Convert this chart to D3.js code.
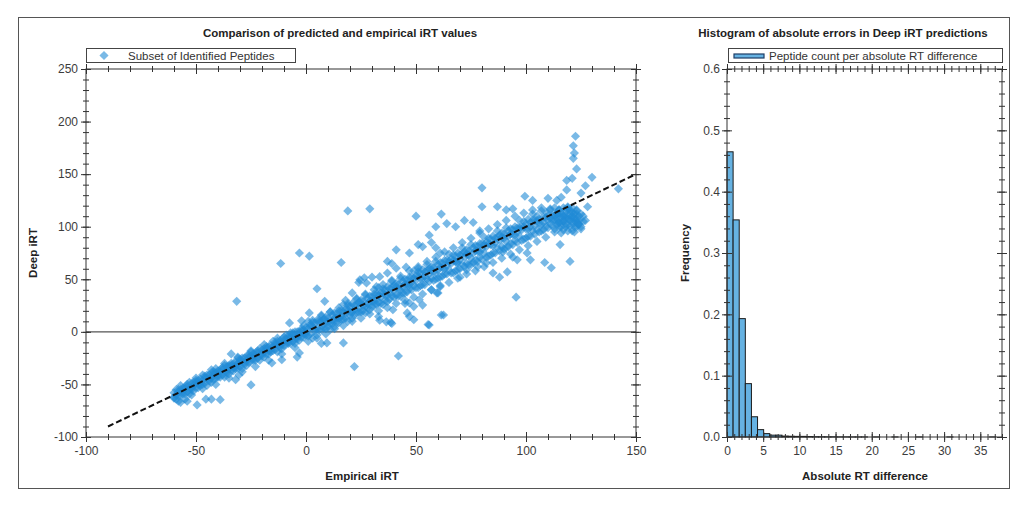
<!DOCTYPE html>
<html>
<head>
<meta charset="utf-8">
<script src="https://cdn.jsdelivr.net/npm/d3@7"></script>
<style>
	body { margin:0; background:#fff; }
	text { font-family:"Liberation Sans", Arial, sans-serif; }
</style>
</head>
<body>
<svg id="chart" width="1029" height="508"></svg>
<script>
// ---------- DATA ----------
// Dense band of peptides close to the diagonal: [empirical iRT, deep iRT]
const bandPoints = [
	[-60,-62],[-60,-58],[-60,-63],[-58,-57],[-58,-61],[-58,-55],[-56,-59],[-56,-54],[-56,-57],
	[-54,-52],[-54,-57],[-54,-50],[-52,-55],[-52,-49],[-52,-53],[-50,-48],[-50,-53],[-50,-46],
	[-48,-51],[-48,-45],[-48,-49],[-46,-44],[-46,-49],[-46,-42],[-44,-47],[-44,-41],[-44,-45],
	[-42,-40],[-42,-45],[-42,-38],[-40,-43],[-40,-37],[-40,-41],[-38,-36],[-38,-41],[-38,-34],
	[-36,-39],[-36,-33],[-36,-37],[-34,-32],[-34,-37],[-34,-30],[-32,-35],[-32,-29],[-32,-33],
	[-30,-28],[-30,-33],[-30,-26],[-28,-31],[-28,-25],[-28,-29],[-26,-24],[-26,-29],[-26,-22],
	[-24,-27],[-24,-21],[-24,-25],[-22,-20],[-22,-25],[-22,-18],[-20,-23],[-20,-17],[-20,-21],
	[-18,-16],[-18,-21],[-18,-14],[-16,-19],[-16,-13],[-16,-17],[-14,-12],[-14,-17],[-14,-10],
	[-12,-15],[-12,-9],[-12,-13],[-10,-8],[-10,-13],[-10,-5],[-8,-11],[-8,-4],[-8,-9],
	[-6,-3],[-6,-9],[-6,-1],[-4,-7],[-4,0],[-4,-5],[-2,1],[-2,-5],[-2,3],
	[0,-3],[0,4],[0,-1],[2,5],[2,-2],[2,7],[4,1],[4,8],[4,3],[6,9],[6,2],[6,11],
	[8,4],[8,12],[8,7],[10,13],[10,5],[10,9],[12,8],[12,16],[12,11],[14,17],[14,9],[14,13],
	[16,12],[16,20],[16,15],[18,21],[18,13],[18,17],[20,16],[20,24],[20,19],[22,25],[22,16],[22,21],
	[24,19],[24,28],[24,23],[26,29],[26,20],[26,25],[28,23],[28,32],[28,27],[30,33],[30,24],[30,29],
	[32,26],[32,36],[32,31],[34,37],[34,27],[34,33],[36,30],[36,40],[36,35],[38,41],[38,31],[38,37],
	[40,33],[40,44],[40,39],[42,45],[42,34],[42,41],[44,37],[44,48],[44,43],[46,49],[46,38],[46,45],
	[48,40],[48,52],[48,47],[50,53],[50,42],[50,49],[52,44],[52,56],[52,51],[54,57],[54,45],[54,53],
	[56,48],[56,60],[56,55],[58,61],[58,49],[58,57],[60,51],[60,64],[60,59],[62,65],[62,53],[62,61],
	[64,55],[64,68],[64,63],[66,69],[66,56],[66,65],[68,58],[68,72],[68,67],[70,73],[70,60],[70,69],
	[72,62],[72,76],[72,71],[74,77],[74,64],[74,73],[76,66],[76,80],[76,75],[78,81],[78,67],[78,77],
	[80,69],[80,84],[80,79],[82,85],[82,71],[82,81],[84,73],[84,88],[84,83],[86,89],[86,75],[86,85],
	[88,77],[88,92],[88,87],[90,93],[90,79],[90,89],[92,81],[92,96],[92,91],[94,97],[94,83],[94,93],
	[96,85],[96,99],[96,95],[98,100],[98,87],[98,97],[100,89],[100,103],[100,98],[102,104],[102,91],[102,100],
	[104,93],[104,106],[104,101],[106,107],[106,95],[106,103],[108,97],[108,109],[108,104],
	[110,110],[110,99],[110,106],[112,101],[112,111],[112,107],[114,112],[114,102],[114,108],
	[116,104],[116,113],[116,109],[118,114],[118,103],[118,110],[120,106],[120,115],[120,100],
	[122,112],[122,104],[122,108],[124,110],[124,102],[124,106]
];

// Second pass over the band, odd empirical values
const bandPoints2 = [
	[-59,-60],[-59,-55],[-59,-64],[-57,-55],[-57,-60],[-57,-51],[-55,-59],[-55,-54],[-55,-52],
	[-53,-48],[-53,-55],[-53,-59],[-51,-51],[-51,-56],[-51,-48],[-49,-46],[-49,-50],[-49,-53],
	[-47,-50],[-47,-41],[-47,-46],[-45,-44],[-45,-51],[-45,-41],[-43,-44],[-43,-39],[-43,-48],
	[-41,-39],[-41,-44],[-41,-35],[-39,-43],[-39,-38],[-39,-36],[-37,-32],[-37,-39],[-37,-43],
	[-35,-35],[-35,-40],[-35,-32],[-33,-30],[-33,-34],[-33,-37],[-31,-34],[-31,-25],[-31,-30],
	[-29,-28],[-29,-35],[-29,-25],[-27,-28],[-27,-23],[-27,-32],[-25,-23],[-25,-28],[-25,-19],
	[-23,-27],[-23,-22],[-23,-20],[-21,-16],[-21,-23],[-21,-27],[-19,-19],[-19,-24],[-19,-16],
	[-17,-14],[-17,-18],[-17,-21],[-15,-18],[-15,-9],[-15,-14],[-13,-12],[-13,-19],[-13,-9],
	[-11,-12],[-11,-7],[-11,-16],[-9,-7],[-9,-12],[-9,-3],[-7,-11],[-7,-6],[-7,-4],
	[-5,0],[-5,-7],[-5,-11],[-3,-3],[-3,-8],[-3,0],[-1,2],[-1,-2],[-1,-5],
	[1,-4],[1,10],[1,3],[3,5],[3,-6],[3,9],[5,3],[5,11],[5,-3],[7,10],[7,2],[7,16],
	[9,3],[9,11],[9,14],[11,19],[11,8],[11,2],[13,13],[13,5],[13,18],[15,20],[15,13],[15,9],
	[17,12],[17,26],[17,19],[19,21],[19,10],[19,25],[21,19],[21,27],[21,13],[23,26],[23,18],[23,32],
	[25,19],[25,27],[25,30],[27,35],[27,24],[27,18],[29,29],[29,21],[29,34],[31,36],[31,29],[31,25],
	[33,28],[33,42],[33,35],[35,37],[35,26],[35,41],[37,35],[37,43],[37,29],[39,42],[39,34],[39,48],
	[41,35],[41,43],[41,46],[43,51],[43,40],[43,34],[45,45],[45,37],[45,50],[47,52],[47,45],[47,41],
	[49,44],[49,58],[49,51],[51,53],[51,42],[51,57],[53,51],[53,59],[53,45],[55,58],[55,50],[55,64],
	[57,51],[57,59],[57,62],[59,67],[59,56],[59,50],[61,61],[61,52],[61,66],[63,68],[63,60],[63,55],
	[65,59],[65,74],[65,67],[67,68],[67,56],[67,73],[69,66],[69,75],[69,59],[71,74],[71,64],[71,80],
	[73,65],[73,74],[73,78],[75,83],[75,70],[75,64],[77,77],[77,68],[77,82],[79,84],[79,76],[79,71],
	[81,75],[81,90],[81,83],[83,84],[83,72],[83,89],[85,82],[85,91],[85,75],[87,90],[87,80],[87,96],
	[89,81],[89,90],[89,94],[91,99],[91,86],[91,80],[93,93],[93,84],[93,98],[95,100],[95,92],[95,87],
	[97,91],[97,106],[97,99],[99,100],[99,88],[99,105],[101,98],[101,107],[101,91],[103,106],[103,96],[103,112],
	[105,97],[105,106],[105,110],[107,115],[107,102],[107,96],[109,109],[109,100],[109,114],
	[111,116],[111,108],[111,103],[113,107],[113,118],[113,111],[115,112],[115,104],[115,116],
	[117,110],[117,118],[117,105],[119,116],[119,108],[119,119],[121,108],[121,114],[121,118],
	[123,116],[123,104],[123,100]
];

// Wider halo around the band
const haloPoints = [
	[-58,-66],[-55,-64],[-52,-60],[-50,-44],[-47,-54],[-43,-36],[-41,-50],[-37,-30],[-35,-44],
	[-31,-24],[-29,-38],[-25,-18],[-23,-33],[-19,-12],[-17,-27],[-13,-6],[-11,-21],[-7,-1],
	[-5,-15],[-1,6],[1,-9],[3,11],[5,-6],[7,15],[9,-2],[11,19],[13,3],[15,23],[17,6],[19,27],
	[21,10],[23,31],[25,13],[27,36],[29,17],[31,40],[33,20],[35,45],[37,23],[39,49],[41,27],
	[43,53],[45,30],[47,58],[49,33],[51,62],[53,36],[55,67],[57,40],[59,71],[61,44],[63,76],
	[65,47],[67,80],[69,51],[71,85],[73,55],[75,89],[77,58],[79,94],[81,62],[83,98],[85,66],
	[87,102],[89,70],[91,106],[93,74],[95,110],[97,78],[99,113],[101,82],[103,116],[105,86],
	[107,118],[109,90],[111,117],[113,95],[115,116],[117,97],[119,118],[121,96],[123,115],
	[125,100],[114,105],[116,100],[118,108],[120,112],[122,100],[119,102],[121,110],[117,106],
	[115,99],[123,107],[125,112],[126,105],[113,98],[115,104],[117,110],[119,96],[121,104],
	[123,112],[125,98],[127,106],[114,112],[118,100],[122,95],[126,110],[120,108],[116,94],[124,103]
];

// Scattered peptides away from the band
const outlierPoints = [
	[19,115],[-3,75],[1.5,72],[-11.5,65],[16,66],[-31.5,29],[5,41],[8.5,29],[24,47],[21,37],
	[18,30],[1.5,18],[-7.5,8.5],[-2,10.5],[7,-11],[9.5,-10.5],[17,-10.5],[-34,-21],[-3,-20],
	[122.5,186],[121.5,177],[122,170],[121.5,165],[123,155],[130,147],[118.5,144],[121,146],
	[142,136],[80,137],[118.5,135],[125,132],[114,125],[128,119],[29,117],[50,110],[61.5,112],
	[80,119],[87,119],[99.5,129],[103,125],[91,116],[94,117],[123.5,103],[115.5,83],[120,67],
	[108.5,66],[111.5,61],[95.5,33],[61.5,16],[55.5,7],[38.5,9],[33.5,11],[42,-23],
	[56,92],[59,100],[64,103],[68,100],[72,106],[76,104],[79,96],[57,85],[53,81],[59,80],[61,75],
	[41,78],[47,75],[51,83],[46,18],[49,11.5],[39.5,21],[36.5,9.5],[39,65],[37,56],
	[89.5,76],[94,71],[96,68.5],[102,68.5],[100.5,75],[68.5,65.5],[70,52],[73,59],[78,62],
	[82,65.5],[85,56],[88,52],[91.5,57],[59.5,37],[61,43],[51.5,30.5],[47,27.5],[30,52],
	[32,43],[27.5,46.5],[-15.5,-29.5],[-11,-26.5],[-4,-24],[22,-33],[-25,-50.5],[-32,-45.5],
	[-30.5,-41],[-49.5,-69.5],[-45.5,-64],[-43,-64],[-39,-64.5],[37,67],[41,60.5],[45.5,61.5],
	[51,60.5],[33.5,52.5],[24.5,49.5],[26.5,51.5],[45,27],[49,24],[53,25.5],[47,14.5],[56,6.5],
	[62.5,16],[60,37],[57,40],[33,14.5],[39,8],[127,139],[116,128],[110,127],[-57,-67],[-54,-66]
];

// Reference line y = x
const fitLine = [[-90,-90],[150,150]];

// Histogram of absolute errors
const binWidth = 0.844;
const histFreq = [
	0.465, 0.354, 0.193, 0.087, 0.033, 0.012, 0.0055, 0.003, 0.003, 0.0015,
	0.0012, 0.001, 0.001, 0.0008, 0.0005, 0.0004, 0.0003, 0.0003, 0.0002, 0.0002,
	0.0001, 0.0001, 0.0001, 0, 0.0001, 0, 0, 0.0001, 0, 0,
	0, 0.0001, 0, 0, 0, 0, 0.0001, 0, 0, 0,
	0, 0, 0, 0.0001, 0
];

// Ticks
const scatterXTicks = [-100,-50,0,50,100,150];
const scatterYTicks = [-100,-50,0,50,100,150,200,250];
const histXTicks = [0,5,10,15,20,25,30,35];
const histYTicks = [0,0.1,0.2,0.3,0.4,0.5,0.6];

// ---------- HELPERS ----------
const svg = d3.select('#chart');
const plainInt = d => String(d); // hyphen minus, like the original
const oneDec = d => d.toFixed(1);

// Draws crossing ticks (both sides of the frame) + labels on left/bottom
function frameAxes(g, xScale, yScale, opt) {
	const W = xScale.range()[1];
	const H = yScale.range()[0];
	const sides = [
		{ax: d3.axisBottom, s: xScale, t: `translate(0,${H})`},
		{ax: d3.axisTop, s: xScale, t: `translate(0,${H})`},
		{ax: d3.axisBottom, s: xScale, t: 'translate(0,0)'},
		{ax: d3.axisTop, s: xScale, t: 'translate(0,0)'},
		{ax: d3.axisLeft, s: yScale, t: 'translate(0,0)'},
		{ax: d3.axisRight, s: yScale, t: 'translate(0,0)'},
		{ax: d3.axisLeft, s: yScale, t: `translate(${W},0)`},
		{ax: d3.axisRight, s: yScale, t: `translate(${W},0)`}
	];
	sides.forEach(sd => {
		const isX = sd.s === xScale;
		[[isX ? opt.xMinor : opt.yMinor, 3], [isX ? opt.xMajor : opt.yMajor, 5]].forEach(([vals, size]) => {
			const a = g.append('g')
				.attr('transform', sd.t)
				.call(sd.ax(sd.s).tickValues(vals).tickSize(size).tickFormat(''));
			a.select('.domain').remove();
			a.selectAll('line').attr('stroke', '#333').attr('stroke-width', 1);
		});
	});

	// labels
	const xl = g.append('g').attr('transform', `translate(0,${H})`)
		.call(d3.axisBottom(xScale).tickValues(opt.xMajor).tickSize(0).tickPadding(opt.xPad).tickFormat(opt.xFormat));
	const yl = g.append('g')
		.call(d3.axisLeft(yScale).tickValues(opt.yMajor).tickSize(0).tickPadding(opt.yPad).tickFormat(opt.yFormat));
	[xl, yl].forEach(a => {
		a.select('.domain').remove();
		a.selectAll('text')
			.attr('font-family', '"Liberation Sans", Arial, sans-serif')
			.attr('font-size', 12)
			.attr('fill', '#3c3c3c');
	});

	g.append('rect')
		.attr('width', W).attr('height', H)
		.attr('fill', 'none')
		.attr('stroke', '#333')
		.attr('stroke-width', 1);
}

// outer border
svg.append('rect')
	.attr('x', 18.5).attr('y', 17.5)
	.attr('width', 991).attr('height', 471)
	.attr('fill', 'none')
	.attr('stroke', '#555')
	.attr('stroke-width', 1);

// ---------- SCATTER ----------
const m1 = {left:86, top:69, width:550, height:368};
const g1 = svg.append('g').attr('transform', `translate(${m1.left},${m1.top})`);

const xScale = d3.scaleLinear().domain([-100,150]).range([0,m1.width]);
const yScale = d3.scaleLinear().domain([-100,250]).range([m1.height,0]);

// zero line
g1.append('line')
	.attr('x1', xScale(-100)).attr('x2', xScale(150))
	.attr('y1', yScale(0)).attr('y2', yScale(0))
	.attr('stroke', '#555')
	.attr('stroke-width', 1.3);

const diamond = d3.symbol().type(d3.symbolSquare).size(42);
const allPoints = bandPoints.concat(bandPoints2, haloPoints, outlierPoints);

g1.append('g').selectAll('path')
	.data(allPoints)
	.enter().append('path')
	.attr('d', diamond)
	.attr('transform', d => `translate(${xScale(d[0])},${yScale(d[1])}) rotate(45)`)
	.attr('fill', '#1f8ad6')
	.attr('fill-opacity', 0.6);

const lineGen = d3.line().x(d => xScale(d[0])).y(d => yScale(d[1]));
g1.append('path')
	.attr('d', lineGen(fitLine))
	.attr('fill', 'none')
	.attr('stroke', '#111')
	.attr('stroke-width', 2)
	.attr('stroke-dasharray', '6,3');

frameAxes(g1, xScale, yScale, {
	xMajor: scatterXTicks, xMinor: d3.range(-100, 151, 10),
	yMajor: scatterYTicks, yMinor: d3.range(-100, 251, 10),
	xPad: 9, yPad: 8, xFormat: plainInt, yFormat: plainInt
});

// title, axis labels, legend
svg.append('text')
	.attr('x', 340).attr('y', 37)
	.attr('text-anchor', 'middle')
	.attr('font-size', 11.5).attr('font-weight', 'bold').attr('fill', '#222')
	.text('Comparison of predicted and empirical iRT values');
svg.append('text')
	.attr('x', 362).attr('y', 480)
	.attr('text-anchor', 'middle')
	.attr('font-size', 11.5).attr('font-weight', 'bold').attr('fill', '#222')
	.text('Empirical iRT');
svg.append('text')
	.attr('transform', 'translate(37,253) rotate(-90)')
	.attr('text-anchor', 'middle')
	.attr('font-size', 11.5).attr('font-weight', 'bold').attr('fill', '#222')
	.text('Deep iRT');

svg.append('rect')
	.attr('x', 86.5).attr('y', 48.5).attr('width', 209).attr('height', 14)
	.attr('fill', '#fff').attr('stroke', '#444');
svg.append('path')
	.attr('d', diamond)
	.attr('transform', 'translate(104,55.5) rotate(45)')
	.attr('fill', '#1f8ad6').attr('fill-opacity', 0.6);
svg.append('text')
	.attr('x', 128).attr('y', 59.5)
	.attr('font-size', 11.5).attr('fill', '#333')
	.text('Subset of Identified Peptides');

// ---------- HISTOGRAM ----------
const m2 = {left:727, top:69, width:275, height:368};
const g2 = svg.append('g').attr('transform', `translate(${m2.left},${m2.top})`);

const hx = d3.scaleLinear().domain([0,38]).range([0,m2.width]);
const hy = d3.scaleLinear().domain([0,0.6]).range([m2.height,0]);

g2.append('g').selectAll('rect')
	.data(histFreq)
	.enter().append('rect')
	.attr('x', (d,i) => hx(i*binWidth))
	.attr('width', hx(binWidth) - hx(0))
	.attr('y', d => hy(d))
	.attr('height', d => hy(0) - hy(d))
	.attr('fill', '#66b2e2')
	.attr('stroke', '#1a1a1a')
	.attr('stroke-width', 1);

frameAxes(g2, hx, hy, {
	xMajor: histXTicks, xMinor: d3.range(0, 38.5, 1),
	yMajor: histYTicks, yMinor: d3.range(0, 0.601, 0.02),
	xPad: 9, yPad: 7, xFormat: plainInt, yFormat: oneDec
});

svg.append('text')
	.attr('x', 843).attr('y', 37)
	.attr('text-anchor', 'middle')
	.attr('font-size', 11.5).attr('font-weight', 'bold').attr('fill', '#222')
	.text('Histogram of absolute errors in Deep iRT predictions');
svg.append('text')
	.attr('x', 865).attr('y', 480)
	.attr('text-anchor', 'middle')
	.attr('font-size', 11.5).attr('font-weight', 'bold').attr('fill', '#222')
	.text('Absolute RT difference');
svg.append('text')
	.attr('transform', 'translate(689,253) rotate(-90)')
	.attr('text-anchor', 'middle')
	.attr('font-size', 11.5).attr('font-weight', 'bold').attr('fill', '#222')
	.text('Frequency');

svg.append('rect')
	.attr('x', 728.5).attr('y', 48.5).attr('width', 274).attr('height', 14)
	.attr('fill', '#fff').attr('stroke', '#444');
svg.append('rect')
	.attr('x', 734).attr('y', 54).attr('width', 30).attr('height', 4)
	.attr('fill', '#66b2e2').attr('stroke', '#1d3d66').attr('stroke-width', 1.2);
svg.append('text')
	.attr('x', 769).attr('y', 59.5)
	.attr('font-size', 11.5).attr('fill', '#333')
	.text('Peptide count per absolute RT difference');
</script>
</body>
</html>
